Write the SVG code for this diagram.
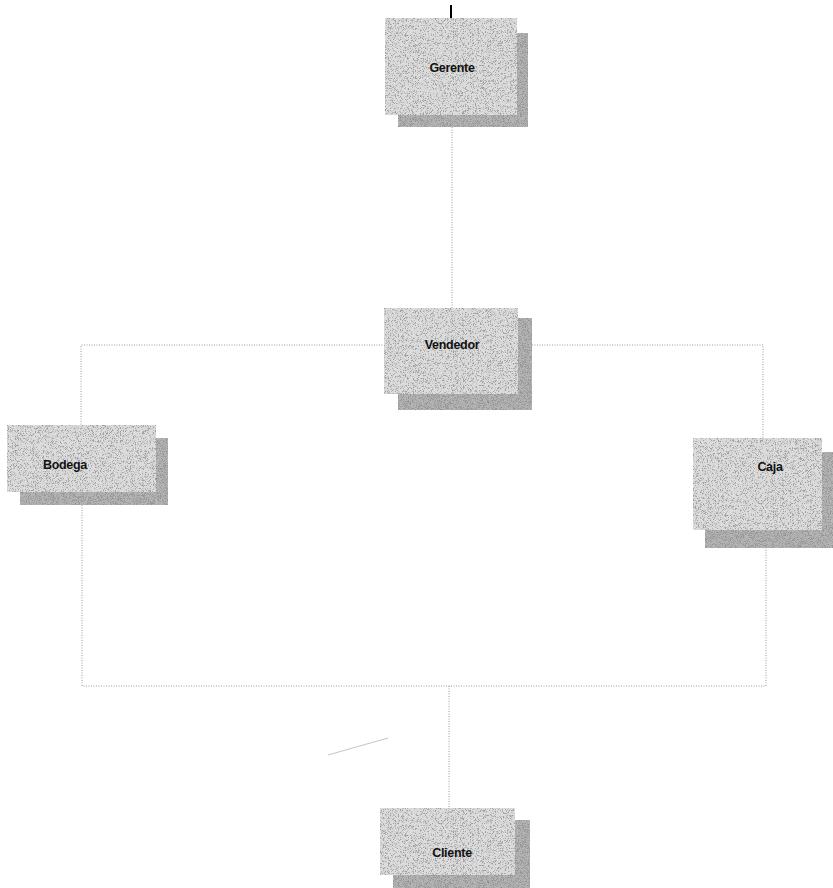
<svg xmlns="http://www.w3.org/2000/svg" width="833" height="888" viewBox="0 0 833 888">
<defs>
<filter id="st" x="0%" y="0%" width="100%" height="100%">
  <feTurbulence type="fractalNoise" baseFrequency="1.6" numOctaves="1" seed="4" result="t"/>
  <feColorMatrix in="t" type="matrix" values="0 0 0 0 0.35  0 0 0 0 0.35  0 0 0 0 0.35  -6 0 0 0 3.0" result="d"/>
  <feComposite in="d" in2="SourceGraphic" operator="in" result="dc"/>
  <feMerge><feMergeNode in="SourceGraphic"/><feMergeNode in="dc"/></feMerge>
</filter>
<filter id="st2" x="0%" y="0%" width="100%" height="100%">
  <feTurbulence type="fractalNoise" baseFrequency="1.6" numOctaves="1" seed="9" result="t"/>
  <feColorMatrix in="t" type="matrix" values="0 0 0 0 0.3  0 0 0 0 0.3  0 0 0 0 0.3  -6 0 0 0 3.2" result="d"/>
  <feComposite in="d" in2="SourceGraphic" operator="in" result="dc"/>
  <feMerge><feMergeNode in="SourceGraphic"/><feMergeNode in="dc"/></feMerge>
</filter>
</defs>
<style>
.sh{fill:#b4b4b4;filter:url(#st2)}
.fr{fill:#dcdcdc;filter:url(#st)}
.lbl{font-family:"Liberation Sans",Arial,sans-serif;font-size:12.5px;font-weight:bold;fill:#111;text-anchor:middle;letter-spacing:-0.3px}
.con{fill:none;stroke:#9a9a9a;stroke-width:1;stroke-dasharray:1 1.5}
</style>
<rect width="833" height="888" fill="#fff"/>
<g id="connectors">
  <line x1="451" y1="5" x2="451" y2="18" stroke="#000" stroke-width="2"/>
  <polyline class="con" points="452,127 452,312"/>
  <polyline class="con" points="385,345 81,345 81,425"/>
  <polyline class="con" points="532,345 763,345 763,438"/>
  <polyline class="con" points="82,505 82,686 766,686 766,548"/>
  <polyline class="con" points="449,686 449,808"/>
  <line x1="328" y1="755" x2="388" y2="738" stroke="#aaa" stroke-width="0.7"/>
</g>
<g id="gerente">
  <rect class="sh" x="398" y="33" width="130" height="94"/>
  <rect class="fr" x="385" y="18" width="132" height="97"/>
  <text class="lbl" x="452" y="72">Gerente</text>
</g>
<g id="vendedor">
  <rect class="sh" x="398" y="318" width="134" height="92"/>
  <rect class="fr" x="384" y="308" width="134" height="86"/>
  <text class="lbl" x="452" y="349">Vendedor</text>
</g>
<g id="bodega">
  <rect class="sh" x="20" y="438" width="148" height="67"/>
  <rect class="fr" x="7" y="425" width="149" height="67"/>
  <text class="lbl" x="65" y="469">Bodega</text>
</g>
<g id="caja">
  <rect class="sh" x="705" y="452" width="128" height="96"/>
  <rect class="fr" x="693" y="438" width="129" height="92"/>
  <text class="lbl" x="770" y="471">Caja</text>
</g>
<g id="cliente">
  <rect class="sh" x="393" y="820" width="137" height="68"/>
  <rect class="fr" x="380" y="808" width="135" height="67"/>
  <text class="lbl" x="452" y="857">Cliente</text>
</g>
</svg>
